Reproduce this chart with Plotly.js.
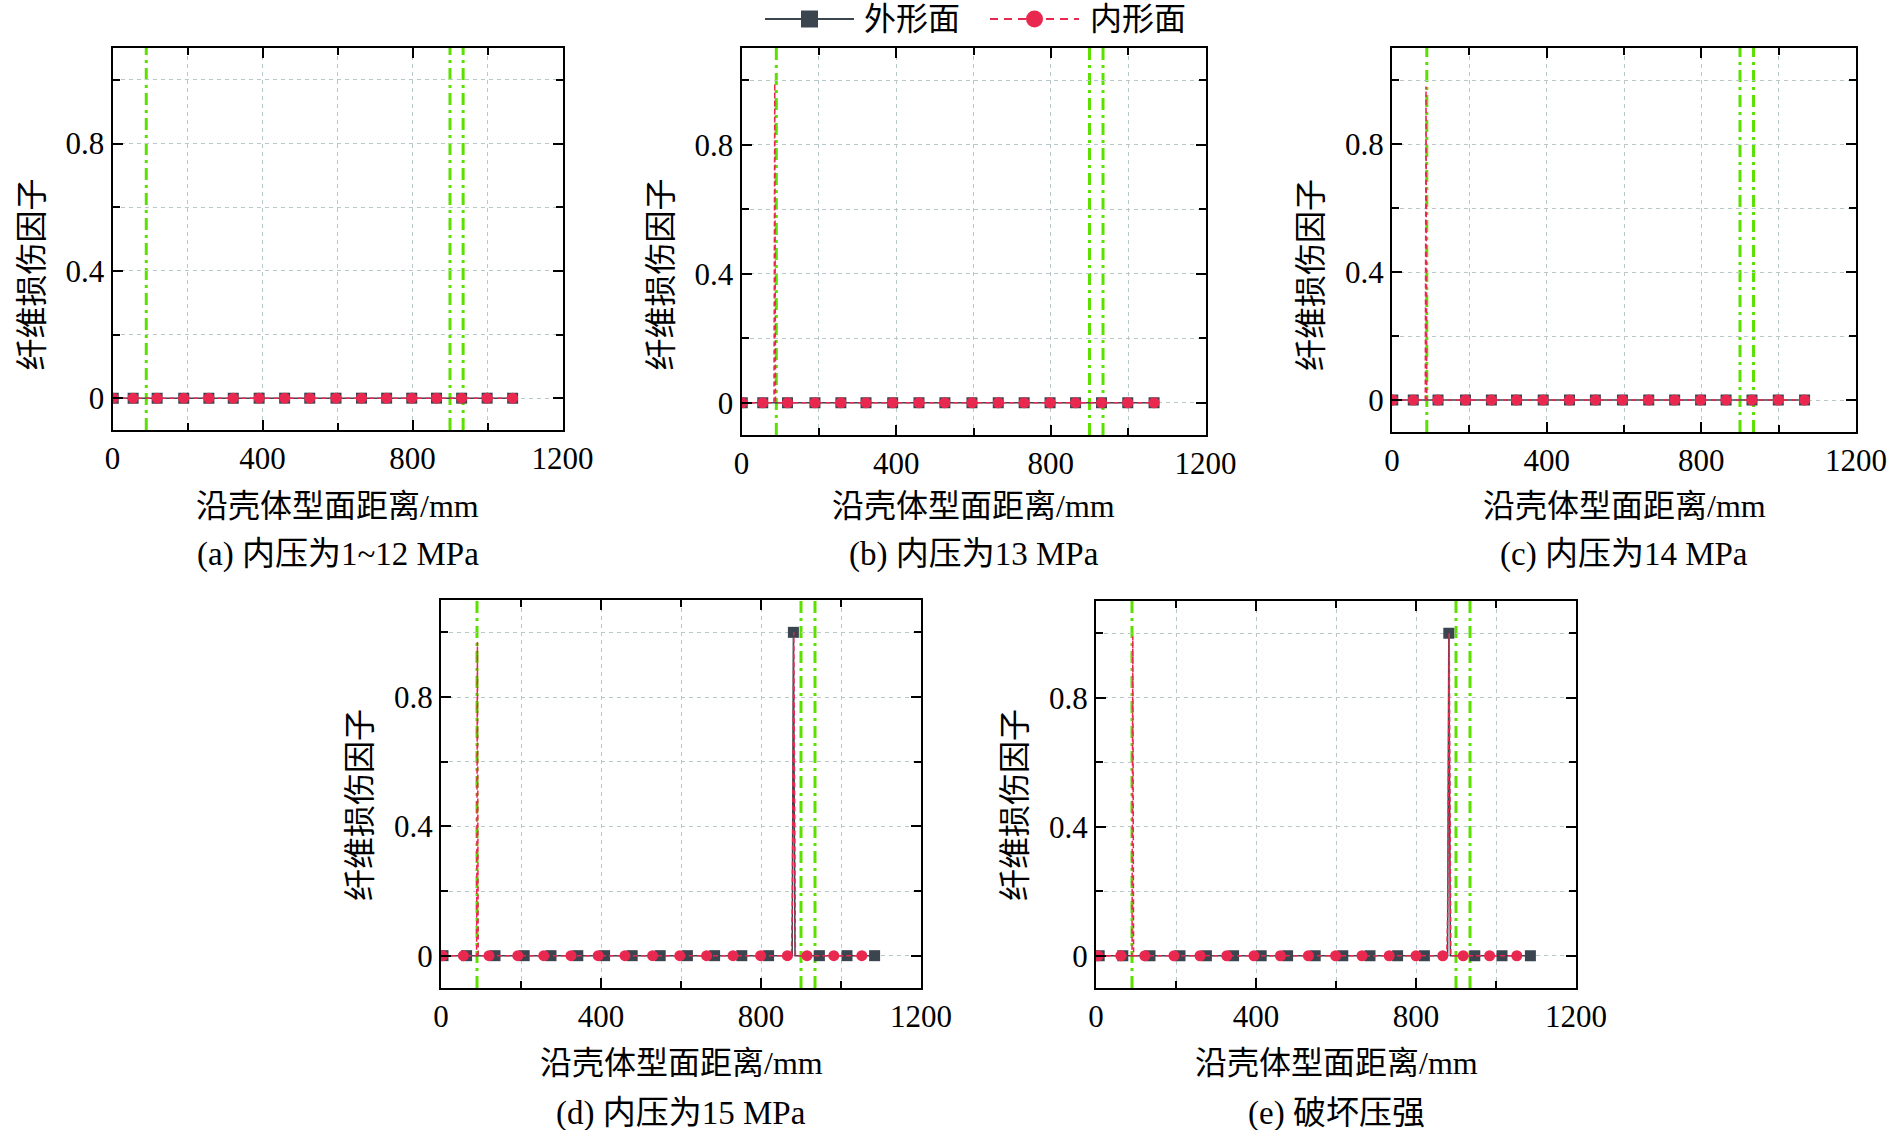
<!DOCTYPE html>
<html>
<head>
<meta charset="utf-8">
<script src="https://cdn.plot.ly/plotly-3.0.1.min.js"></script>
<style>
  html, body { margin: 0; padding: 0; background: #fff; }
  #graph { width: 1891px; height: 1130px; }
</style>
</head>
<body>
<div id="graph"></div>
<script>
// texts
const captions = ['(a) 内压为1~12 MPa', '(b) 内压为13 MPa', '(c) 内压为14 MPa', '(d) 内压为15 MPa', '(e) 破坏压强'];
const seriesNames = ['外形面', '内形面'];
const xTitle = '沿壳体型面距离/mm';
const yTitle = '纤维损伤因子';

// marker positions along the profile (mm), panels a-c (outer and inner overlap)
const topX = [2, 55, 119, 190, 257, 322, 391, 459, 526, 596, 664, 731, 798, 864, 931, 999, 1067];
const topY = [0, 0, 0, 0, 0, 0, 0, 0, 0, 0, 0, 0, 0, 0, 0, 0, 0];

// extra (unmarked) points of the damage spikes
const noX = [];
const noY = [];
const bInnerSpikeX = [84, 86, 88];
const bInnerSpikeY = [0, 0.99, 0];
const cInnerSpikeX = [86, 88, 90];
const cInnerSpikeY = [0, 0.98, 0];

// panel d
const dOuterX = [5, 64, 135, 208, 275, 342, 409, 478, 548, 616, 684, 752, 819, 881, 946, 1015, 1084];
const dOuterY = [0, 0, 0, 0, 0, 0, 0, 0, 0, 0, 0, 0, 0, 1.0, 0, 0, 0];
const dOuterSpikeX = [878, 885];
const dOuterSpikeY = [0, 0];
const dInnerX = [4, 56, 120, 192, 257, 325, 393, 460, 529, 597, 664, 730, 799, 866, 915, 982, 1052];
const dInnerY = [0, 0, 0, 0, 0, 0, 0, 0, 0, 0, 0, 0, 0, 0, 0, 0, 0];
const dInnerSpikeX = [89, 91, 93, 876, 878, 882, 886];
const dInnerSpikeY = [0, 0.97, 0, 0, 0.13, 1.0, 0];

// panel e
const eOuterX = [8, 67, 135, 210, 276, 344, 413, 479, 548, 617, 685, 754, 821, 882, 947, 1015, 1086];
const eOuterY = [0, 0, 0, 0, 0, 0, 0, 0, 0, 0, 0, 0, 0, 1.0, 0, 0, 0];
const eOuterSpikeX = [879, 886];
const eOuterSpikeY = [0, 0];
const eInnerX = [5, 62, 122, 195, 260, 327, 395, 461, 531, 599, 665, 733, 800, 867, 918, 984, 1052];
const eInnerY = [0, 0, 0, 0, 0, 0, 0, 0, 0, 0, 0, 0, 0, 0, 0, 0, 0];
const eInnerSpikeX = [90, 92, 94, 877, 879, 883, 887];
const eInnerSpikeY = [0, 0.99, 0, 0, 0.13, 1.0, 0];

// green dash-dot reference lines (mm)
const greenX = [90, 900, 935];

const W = 1891, H = 1130;
const SERIF = 'Liberation Serif';
const FONT = 'Liberation Serif, "Noto Sans CJK SC"';
const DARK = '#3b4550';
const RED = '#e8284f';
const GREEN = '#5ce000';
const GRID = '#b9c9c9';
const RED_DASH = '5px,3px';

// plot boxes in pixels: [left, right, top, bottom]
const boxes = [
  [112.5, 562.5, 48, 430],
  [741.5, 1205.5, 48, 435],
  [1392, 1856, 48, 432],
  [441, 921, 600, 988],
  [1096, 1576, 601, 988]
];

const panels = [
  { outer: [topX, topY, noX, noY], inner: [topX, topY, noX, noY] },
  { outer: [topX, topY, noX, noY], inner: [topX, topY, bInnerSpikeX, bInnerSpikeY] },
  { outer: [topX, topY, noX, noY], inner: [topX, topY, cInnerSpikeX, cInnerSpikeY] },
  { outer: [dOuterX, dOuterY, dOuterSpikeX, dOuterSpikeY], inner: [dInnerX, dInnerY, dInnerSpikeX, dInnerSpikeY] },
  { outer: [eOuterX, eOuterY, eOuterSpikeX, eOuterSpikeY], inner: [eInnerX, eInnerY, eInnerSpikeX, eInnerSpikeY] }
];

function merge(mx, my, ex, ey) {
  const pts = [];
  for (let i = 0; i < mx.length; i++) pts.push([mx[i], my[i]]);
  for (let i = 0; i < ex.length; i++) pts.push([ex[i], ey[i]]);
  pts.sort((a, b) => a[0] - b[0]);
  return { x: pts.map(p => p[0]), y: pts.map(p => p[1]) };
}
// pixel -> paper
function px(x) { return x / W; }
function py(y) { return 1 - y / H; }

const data = [];
const layout = {
  width: W, height: H,
  margin: { l: 0, r: 0, t: 0, b: 0, autoexpand: false },
  paper_bgcolor: '#fff', plot_bgcolor: '#fff',
  font: { family: FONT, size: 31, color: '#000' },
  showlegend: false,
  shapes: [],
  annotations: []
};

panels.forEach((p, i) => {
  const s = i === 0 ? '' : String(i + 1);
  const xa = 'x' + s, ya = 'y' + s;
  const b = boxes[i];
  const o = merge(p.outer[0], p.outer[1], p.outer[2], p.outer[3]);
  const n = merge(p.inner[0], p.inner[1], p.inner[2], p.inner[3]);

  data.push({ x: o.x, y: o.y, xaxis: xa, yaxis: ya, mode: 'lines', name: seriesNames[0],
    line: { color: DARK, width: 1.5 }, hoverinfo: 'skip' });
  data.push({ x: p.outer[0], y: p.outer[1], xaxis: xa, yaxis: ya, mode: 'markers', name: seriesNames[0],
    marker: { symbol: 'square', size: 11, color: DARK }, hoverinfo: 'skip' });
  data.push({ x: n.x, y: n.y, xaxis: xa, yaxis: ya, mode: 'lines', name: seriesNames[1],
    line: { color: RED, width: 1.5, dash: RED_DASH }, hoverinfo: 'skip' });
  data.push({ x: p.inner[0], y: p.inner[1], xaxis: xa, yaxis: ya, mode: 'markers', name: seriesNames[1],
    marker: { symbol: 'circle', size: 11, color: RED }, hoverinfo: 'skip' });

  const axisCommon = {
    ticks: 'inside', ticklen: 10, tickwidth: 2, tickcolor: '#000',
    showline: true, linecolor: '#000', linewidth: 2, mirror: 'allticks',
    showgrid: true, gridcolor: GRID, gridwidth: 1, griddash: '4px,4px',
    zeroline: false, fixedrange: true,
    tickfont: { family: SERIF, size: 31, color: '#000' }
  };
  layout['xaxis' + s] = Object.assign({}, axisCommon, {
    domain: [px(b[0]), px(b[1])], anchor: ya,
    range: [0, 1200], tick0: 0, dtick: 400,
    minor: { tick0: 0, dtick: 200, ticks: 'inside', ticklen: 7, tickwidth: 2, tickcolor: '#000',
      showgrid: true, gridcolor: GRID, gridwidth: 1, griddash: '4px,4px' }
  });
  layout['yaxis' + s] = Object.assign({}, axisCommon, {
    domain: [py(b[3]), py(b[2])], anchor: xa,
    range: [-0.1, 1.1], tick0: 0, dtick: 0.4,
    minor: { tick0: 0, dtick: 0.2, ticks: 'inside', ticklen: 7, tickwidth: 2, tickcolor: '#000',
      showgrid: true, gridcolor: GRID, gridwidth: 1, griddash: '4px,4px' }
  });

  greenX.forEach(g => {
    layout.shapes.push({ type: 'line', xref: xa, yref: ya + ' domain', x0: g, x1: g, y0: 0, y1: 1,
      line: { color: GREEN, width: 3, dash: '12px,5px,3px,5px' }, layer: 'below' });
  });

  const cx = (b[0] + b[1]) / 2;
  const top = i < 3;
  const titleY = top ? 506 : 1063;
  const capY = top ? 554 : 1113;
  const yTitleY = top ? 275 : 805;
  layout.annotations.push({ xref: 'paper', yref: 'paper', x: px(cx), y: py(titleY),
    xanchor: 'center', yanchor: 'middle', showarrow: false, text: xTitle,
    font: { family: FONT, size: 32, color: '#000' } });
  layout.annotations.push({ xref: 'paper', yref: 'paper', x: px(cx), y: py(capY),
    xanchor: 'center', yanchor: 'middle', showarrow: false, text: captions[i],
    font: { family: FONT, size: 33, color: '#000' } });
  layout.annotations.push({ xref: 'paper', yref: 'paper', x: px(b[0] - 81), y: py(yTitleY),
    xanchor: 'center', yanchor: 'middle', showarrow: false, text: yTitle, textangle: -90,
    font: { family: FONT, size: 32, color: '#000' } });
});

// legend keys drawn on top of the figure, centred over panel (b)
const legY = 19;
const keys = [
  { x0: 765, x1: 854, color: DARK, dash: 'solid', mark: 'rect', text: seriesNames[0], tx: 862 },
  { x0: 990, x1: 1079, color: RED, dash: '8px,6px', mark: 'circle', text: seriesNames[1], tx: 1088 }
];
keys.forEach(k => {
  const m = (k.x0 + k.x1) / 2, r = 8.5;
  layout.shapes.push({ type: 'line', xref: 'paper', yref: 'paper',
    x0: px(k.x0), x1: px(k.x1), y0: py(legY), y1: py(legY),
    line: { color: k.color, width: 2, dash: k.dash } });
  layout.shapes.push({ type: k.mark, xref: 'paper', yref: 'paper',
    x0: px(m - r), x1: px(m + r), y0: py(legY + r), y1: py(legY - r),
    fillcolor: k.color, line: { color: k.color, width: 0 } });
  layout.annotations.push({ xref: 'paper', yref: 'paper', x: px(k.tx), y: py(legY),
    xanchor: 'left', yanchor: 'middle', showarrow: false, text: k.text,
    font: { family: FONT, size: 32, color: '#000' } });
});

Plotly.newPlot('graph', data, layout, { staticPlot: true, displayModeBar: false });
</script>
</body>
</html>
